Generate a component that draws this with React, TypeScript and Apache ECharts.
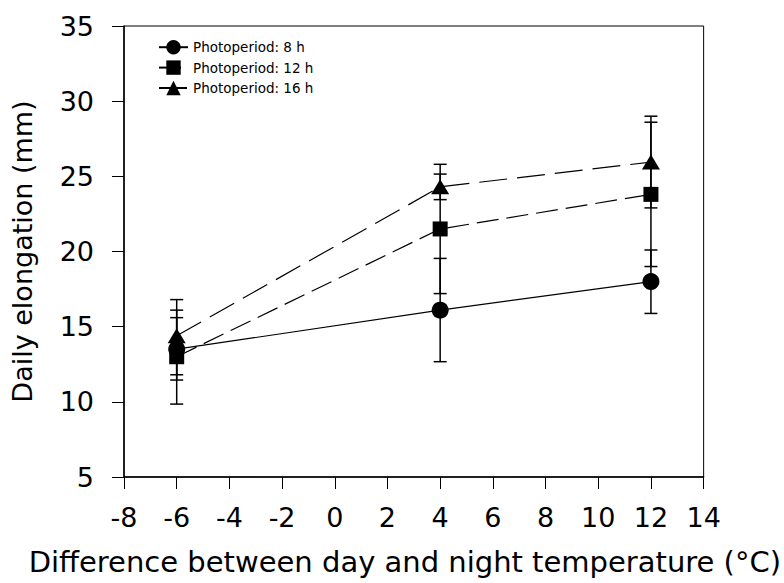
import React, { useEffect, useRef } from "react";
import * as echarts from "echarts";

const xValues = [-6, 4, 12];
const seriesNames = ["Photoperiod: 8 h", "Photoperiod: 12 h", "Photoperiod: 16 h"];
const mean8 = [13.5, 16.1, 18.0];
const low8 = [11.45, 12.67, 15.88];
const high8 = [15.6, 19.54, 20.1];
const mean12 = [13.0, 21.5, 23.8];
const low12 = [9.85, 17.2, 19.0];
const high12 = [16.1, 25.8, 28.6];
const mean16 = [14.4, 24.3, 25.95];
const low16 = [11.8, 23.45, 22.9];
const high16 = [16.8, 25.15, 29.0];
const xTitle = "Difference between day and night temperature (°C)";
const yTitle = "Daily elongation (mm)";

const FONT = "DejaVu Sans";

export default function App() {
  const ref = useRef<HTMLDivElement>(null);
  useEffect(() => {
    if (!ref.current) return;
    const chart = echarts.init(ref.current, null, { renderer: "svg" });
    const pts = (m: number[]) => xValues.map((x, i) => [x, m[i]]);
    const bars = (lo: number[], hi: number[]) => xValues.map((x, i) => [x, lo[i], hi[i]]);
    const errRender = (params: any, api: any) => {
      const x = api.value(0);
      const p1 = api.coord([x, api.value(1)]);
      const p2 = api.coord([x, api.value(2)]);
      const w = 6.5;
      const st = { stroke: "#000", lineWidth: 1.5 };
      return {
        type: "group",
        children: [
          { type: "line", shape: { x1: p1[0], y1: p1[1], x2: p2[0], y2: p2[1] }, style: st },
          { type: "line", shape: { x1: p1[0] - w, y1: p1[1], x2: p1[0] + w, y2: p1[1] }, style: st },
          { type: "line", shape: { x1: p2[0] - w, y1: p2[1], x2: p2[0] + w, y2: p2[1] }, style: st },
        ],
      };
    };
    const errSeries = (lo: number[], hi: number[]) => ({
      type: "custom",
      renderItem: errRender,
      data: bars(lo, hi),
      encode: { x: 0, y: [1, 2] },
      z: 1,
      silent: true,
    });
    chart.setOption({
      animation: false,
      backgroundColor: "#fff",
      grid: {
        left: 124,
        right: 77,
        top: 26,
        bottom: 106,
        show: true,
        borderColor: "#000",
        borderWidth: 1,
      },
      legend: {
        data: seriesNames,
        orient: "vertical",
        left: 153,
        top: 35,
        itemWidth: 29,
        itemHeight: 18,
        itemGap: 6,
        textStyle: { fontFamily: FONT, fontSize: 13.5, color: "#000" },
      },
      xAxis: {
        type: "value",
        min: -8,
        max: 14,
        interval: 2,
        axisLine: { onZero: false, lineStyle: { color: "#000", width: 1.5 } },
        axisTick: { length: 12, lineStyle: { color: "#000", width: 1 } },
        splitLine: { show: false },
        axisLabel: { fontFamily: FONT, fontSize: 27, color: "#000", margin: 27 },
        name: xTitle,
        nameLocation: "middle",
        nameGap: 70,
        nameTextStyle: { fontFamily: FONT, fontSize: 29, color: "#000", padding: [0, 18, 0, 0] },
      },
      yAxis: {
        type: "value",
        min: 5,
        max: 35,
        interval: 5,
        axisLine: { onZero: false, lineStyle: { color: "#000", width: 1.5 } },
        axisTick: { length: 12, lineStyle: { color: "#000", width: 1 } },
        splitLine: { show: false },
        axisLabel: { fontFamily: FONT, fontSize: 27, color: "#000", margin: 30 },
        name: yTitle,
        nameLocation: "middle",
        nameGap: 88,
        nameTextStyle: { fontFamily: FONT, fontSize: 27, color: "#000" },
      },
      series: [
        errSeries(low8, high8),
        errSeries(low12, high12),
        errSeries(low16, high16),
        {
          name: seriesNames[0],
          type: "line",
          data: pts(mean8),
          symbol: "circle",
          symbolSize: 17,
          itemStyle: { color: "#000" },
          lineStyle: { color: "#000", width: 1.2, type: "solid" },
          z: 3,
        },
        {
          name: seriesNames[1],
          type: "line",
          data: pts(mean12),
          symbol: "rect",
          symbolSize: 15,
          itemStyle: { color: "#000" },
          lineStyle: { color: "#000", width: 1.2, type: [22, 8] },
          z: 3,
        },
        {
          name: seriesNames[2],
          type: "line",
          data: pts(mean16),
          symbol: "triangle",
          symbolSize: [18, 15],
          itemStyle: { color: "#000" },
          lineStyle: { color: "#000", width: 1.2, type: [28, 10] },
          z: 3,
        },
      ],
    });
    return () => chart.dispose();
  }, []);
  return (
    <div
      ref={ref}
      style={{ position: "fixed", left: 0, top: 0, width: 784, height: 583, background: "#fff" }}
    />
  );
}
